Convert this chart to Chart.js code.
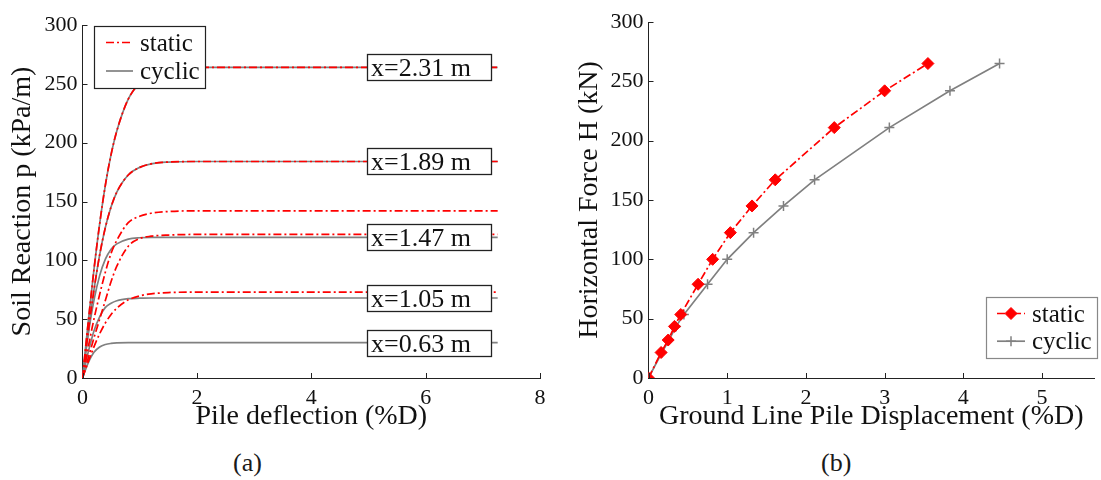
<!DOCTYPE html>
<html>
<head>
<meta charset="utf-8">
<script src="https://cdn.jsdelivr.net/npm/chart.js@4.4.1/dist/chart.umd.min.js"></script>
<style>
  body { margin: 0; background: #fff; width: 1101px; height: 480px; overflow: hidden; font-family: "Liberation Serif", serif; }
  #left { position: absolute; left: 0; top: 0; width: 560px; height: 440px; }
  #right { position: absolute; left: 560px; top: 0; width: 541px; height: 440px; }
  .cap { position: absolute; top: 448px; font-size: 26px; color: #1a1a1a; }
</style>
</head>
<body>
<div id="left"><canvas id="pyChart"></canvas></div>
<div id="right"><canvas id="loadChart"></canvas></div>
<div class="cap" style="left:233px">(a)</div>
<div class="cap" style="left:821px">(b)</div>
<script>
// (a) p-y curves
const deflection = [0, 0.05, 0.1, 0.2, 0.3, 0.4, 0.5, 0.6, 0.8, 1.0, 1.2, 1.5, 2.0, 7.26];
const static264  = [0, 24, 47.5, 92, 131, 164, 190, 210, 237, 250.5, 257, 262, 264, 264];
const static184  = [0, 20, 39, 74.6, 104.6, 128, 145.5, 158, 172.5, 179, 182, 183.5, 184, 184];
const static142  = [0, 13, 26, 50, 71, 90, 106, 117, 132, 137.5, 140, 141.5, 142, 142];
const static122  = [0, 8.5, 17, 34, 50, 66, 82, 95, 112, 118.5, 120.5, 121.5, 122, 122];
const static73   = [0, 7, 13.7, 26.5, 37.6, 46.8, 54, 59.4, 66.4, 69.8, 71.5, 72.6, 73, 73];
const cyclic264  = [0, 24, 47.5, 92, 131, 164, 190, 210, 237, 250.5, 257, 262, 264, 264];
const cyclic184  = [0, 20, 39, 74.6, 104.6, 128, 145.5, 158, 172.5, 179, 182, 183.5, 184, 184];
const cyclic119  = [0, 19, 37, 66, 87, 101, 109.5, 114, 118, 119.2, 119.5, 119.5, 119.5, 119.5];
const cyclic68   = [0, 11.4, 22, 40, 52, 60, 63.6, 65.7, 67.4, 67.8, 68, 68, 68, 68];
const cyclic30   = [0, 6.8, 12.9, 21.8, 26.4, 28.5, 29.4, 29.8, 30, 30, 30, 30, 30, 30];
const pyTicksX   = [0, 2, 4, 6, 8];

const depthLabels = ['x=2.31 m', 'x=1.89 m', 'x=1.47 m', 'x=1.05 m', 'x=0.63 m'];
const depthLevels = [264, 184, 119.5, 68, 30];
const labelSpan   = [4.97, 7.14];   // deflection range covered by the label boxes

// (b) load - displacement
const staticDisp = [0, 0.16, 0.25, 0.33, 0.41, 0.63, 0.815, 1.04, 1.315, 1.61, 2.36, 3.0, 3.55];
const staticLoad = [0, 21.5, 32, 43.5, 53.5, 79, 100, 122.5, 145, 167, 211, 242, 265];
const cyclicDisp = [0, 0.17, 0.26, 0.35, 0.45, 0.75, 1.0, 1.335, 1.715, 2.11, 3.06, 3.83, 4.46];
const cyclicLoad = [0, 21.5, 32, 43.5, 53.5, 79, 100, 122.5, 145, 167, 211, 242, 265];
const loadTicksX = [0, 1, 2, 3, 4, 5];
const forceTicks = [0, 50, 100, 150, 200, 250, 300];

const RED = '#ff0000';
const GREY = '#808080';
const DASHDOT = [8, 3, 2, 3];
const INK = '#111';
const SERIF = '"Liberation Serif", "Times New Roman", serif';

Chart.defaults.font.family = SERIF;
Chart.defaults.font.size = 22;
Chart.defaults.color = INK;

function zip(xs, ys) {
  return xs.map((x, i) => ({ x: x, y: ys[i] }));
}

// small tick marks pointing into the plot, like the original
const inwardTicks = {
  id: 'inwardTicks',
  afterDatasetsDraw(chart) {
    const ctx = chart.ctx, a = chart.chartArea;
    const xs = chart.scales.x, ys = chart.scales.y;
    ctx.save();
    ctx.strokeStyle = '#222';
    ctx.lineWidth = 1;
    ctx.beginPath();
    xs.ticks.forEach(t => {
      const px = Math.round(xs.getPixelForValue(t.value)) + 0.5;
      ctx.moveTo(px, a.bottom); ctx.lineTo(px, a.bottom - 5);
    });
    ys.ticks.forEach(t => {
      const py = Math.round(ys.getPixelForValue(t.value)) + 0.5;
      ctx.moveTo(a.left, py); ctx.lineTo(a.left + 5, py);
    });
    ctx.stroke();
    ctx.restore();
  }
};

// legend in a framed box inside the plot area
const boxLegend = {
  id: 'boxLegend',
  afterDraw(chart, args, opts) {
    if (!opts.items) return;
    const ctx = chart.ctx;
    const bx = opts.left, by = opts.top, bw = opts.width, bh = opts.height;
    ctx.save();
    ctx.fillStyle = '#fff';
    ctx.fillRect(bx, by, bw, bh);
    ctx.strokeStyle = opts.frame;
    ctx.lineWidth = 1.2;
    ctx.strokeRect(bx + 0.5, by + 0.5, bw, bh);
    opts.items.forEach((idx, i) => {
      const ds = chart.data.datasets[idx];
      const cy = by + opts.first + i * opts.step;
      ctx.strokeStyle = ds.borderColor;
      ctx.lineWidth = ds.borderWidth;
      ctx.setLineDash(ds.borderDash || []);
      ctx.beginPath();
      ctx.moveTo(bx + opts.lineStart, cy);
      ctx.lineTo(bx + opts.lineStart + opts.lineLen, cy);
      ctx.stroke();
      ctx.setLineDash([]);
      if (ds.pointRadius > 0) {
        ctx.fillStyle = ds.pointBackgroundColor;
        ctx.strokeStyle = ds.pointBorderColor;
        ctx.lineWidth = ds.pointBorderWidth || 1.5;
        Chart.helpers.drawPoint(ctx, {
          pointStyle: ds.pointStyle, radius: ds.pointRadius, borderWidth: ds.pointBorderWidth || 1.5
        }, bx + opts.lineStart + opts.lineLen / 2, cy);
      }
      ctx.fillStyle = INK;
      ctx.font = '25px ' + SERIF;
      ctx.textBaseline = 'alphabetic';
      ctx.fillText(ds.label, bx + opts.textStart, cy + 8);
    });
    ctx.restore();
  }
};

// depth label boxes sitting on the plateaus
const depthBoxes = {
  id: 'depthBoxes',
  afterDatasetsDraw(chart, args, opts) {
    if (!opts.labels) return;
    const ctx = chart.ctx, xs = chart.scales.x, ys = chart.scales.y;
    const x0 = Math.round(xs.getPixelForValue(opts.span[0]));
    const x1 = Math.round(xs.getPixelForValue(opts.span[1]));
    ctx.save();
    ctx.font = '26px ' + SERIF;
    ctx.textBaseline = 'alphabetic';
    opts.labels.forEach((txt, i) => {
      const cy = Math.round(ys.getPixelForValue(opts.levels[i]));
      ctx.fillStyle = '#fff';
      ctx.fillRect(x0, cy - 13, x1 - x0, 26);
      ctx.strokeStyle = '#222';
      ctx.lineWidth = 1.3;
      ctx.strokeRect(x0 + 0.5, cy - 12.5, x1 - x0, 26);
      ctx.fillStyle = INK;
      ctx.fillText(txt, x0 + 4, cy + 9);
    });
    ctx.restore();
  }
};

function lineSet(label, xs, ys, isStatic) {
  return {
    label: label,
    data: zip(xs, ys),
    borderColor: isStatic ? RED : GREY,
    borderWidth: 1.7,
    borderDash: isStatic ? DASHDOT : [],
    pointRadius: 0,
    cubicInterpolationMode: 'monotone',
    fill: false
  };
}

function axisX(min, max, tickValues, title, fitH) {
  return {
    type: 'linear', min: min, max: max,
    ticks: { padding: 7, maxRotation: 0, autoSkip: false },
    afterBuildTicks: s => { s.ticks = tickValues.map(v => ({ value: v })); },
    grid: { display: true, drawOnChartArea: false, drawTicks: false },
    border: { display: true, color: '#222', width: 1 },
    title: { display: true, text: title, font: { size: 28 }, padding: { top: 0, bottom: 7 }, color: INK },
    afterFit: s => { s.height = fitH; }
  };
}

function axisY(title, fitW, titlePad) {
  return {
    type: 'linear', min: 0, max: 300,
    ticks: { padding: 5, autoSkip: false },
    afterBuildTicks: s => { s.ticks = forceTicks.map(v => ({ value: v })); },
    grid: { display: true, drawOnChartArea: false, drawTicks: false },
    border: { display: true, color: '#222', width: 1 },
    title: { display: true, text: title, font: { size: 28 }, padding: { top: titlePad, bottom: 0 }, color: INK },
    afterFit: s => { s.width = fitW; }
  };
}

// statics first so they are painted on top of the grey curves
const pyChart = new Chart(document.getElementById('pyChart'), {
  type: 'line',
  data: {
    datasets: [
      lineSet('static', deflection, static264, true),
      lineSet('static', deflection, static184, true),
      lineSet('static', deflection, static142, true),
      lineSet('static', deflection, static122, true),
      lineSet('static', deflection, static73, true),
      lineSet('cyclic', deflection, cyclic264, false),
      lineSet('cyclic', deflection, cyclic184, false),
      lineSet('cyclic', deflection, cyclic119, false),
      lineSet('cyclic', deflection, cyclic68, false),
      lineSet('cyclic', deflection, cyclic30, false)
    ]
  },
  options: {
    responsive: true,
    maintainAspectRatio: false,
    animation: false,
    layout: { padding: { left: 0, right: 20, top: 25, bottom: 0 } },
    scales: {
      x: axisX(0, 8, pyTicksX, 'Pile deflection (%D)', 62),
      y: axisY('Soil Reaction p (kPa/m)', 82.5, 6)
    },
    plugins: {
      legend: { display: false },
      tooltip: { enabled: false },
      boxLegend: { items: [0, 5], left: 94, top: 26, width: 111, height: 62,
                   first: 16.5, step: 28.5, lineStart: 12, lineLen: 27, textStart: 46, frame: '#222' },
      depthBoxes: { labels: depthLabels, levels: depthLevels, span: labelSpan }
    }
  },
  plugins: [inwardTicks, depthBoxes, boxLegend]
});

const loadChart = new Chart(document.getElementById('loadChart'), {
  type: 'line',
  data: {
    datasets: [
      {
        label: 'static',
        data: zip(staticDisp, staticLoad),
        borderColor: RED, borderWidth: 1.7, borderDash: DASHDOT,
        pointStyle: 'rectRot', pointRadius: 6, pointBorderWidth: 1,
        pointBackgroundColor: RED, pointBorderColor: RED,
        fill: false
      },
      {
        label: 'cyclic',
        data: zip(cyclicDisp, cyclicLoad),
        borderColor: GREY, borderWidth: 1.7,
        pointStyle: 'cross', pointRadius: 5, pointBorderWidth: 1.5,
        pointBackgroundColor: GREY, pointBorderColor: GREY,
        fill: false
      }
    ]
  },
  options: {
    responsive: true,
    maintainAspectRatio: false,
    animation: false,
    layout: { padding: { left: 0, right: 0, top: 22, bottom: 0 } },
    scales: {
      x: axisX(0, 5.66, loadTicksX, 'Ground Line Pile Displacement (%D)', 62),
      y: axisY('Horizontal Force H (kN)', 88.5, 13)
    },
    plugins: {
      legend: { display: false },
      tooltip: { enabled: false },
      boxLegend: { items: [0, 1], left: 426, top: 297, width: 111, height: 61,
                   first: 16.5, step: 27.7, lineStart: 11, lineLen: 28, textStart: 46, frame: '#888' }
    }
  },
  plugins: [inwardTicks, boxLegend]
});
</script>
</body>
</html>
